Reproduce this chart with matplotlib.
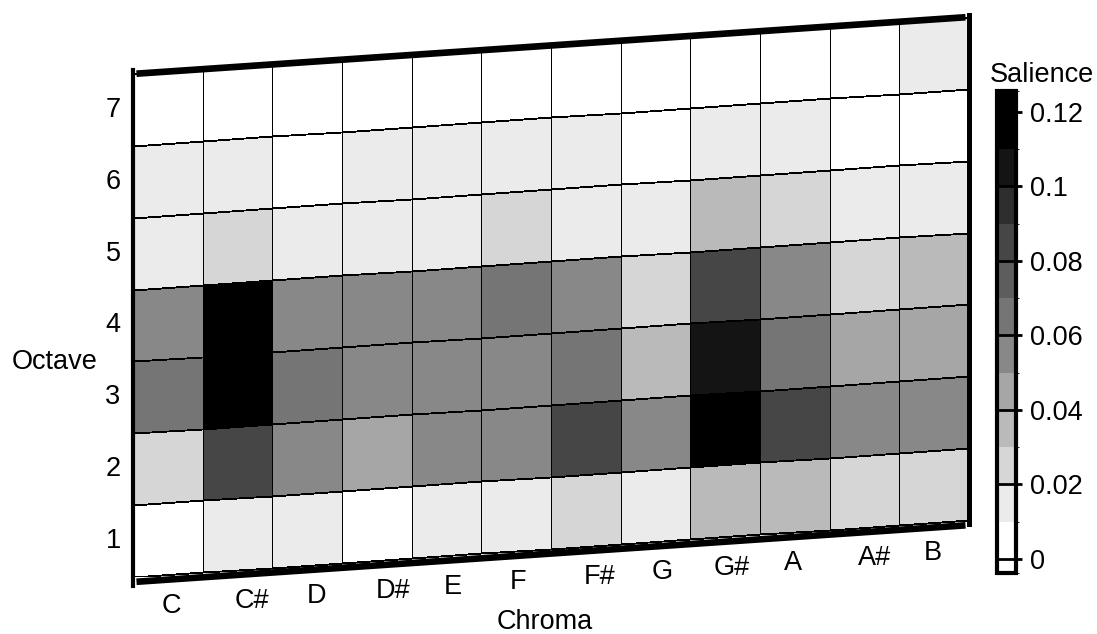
import numpy as np
import matplotlib
matplotlib.use("Agg")
import matplotlib.pyplot as plt
import matplotlib.transforms as mtransforms
from matplotlib.colors import ListedColormap, BoundaryNorm

plt.rcParams['font.family'] = ['Liberation Sans', 'DejaVu Sans']
plt.rcParams['font.size'] = 19.5

# %%
# salience per octave (rows) and chroma (columns)
chroma = ['C', 'C#', 'D', 'D#', 'E', 'F', 'F#', 'G', 'G#', 'A', 'A#', 'B']
octaves = [1, 2, 3, 4, 5, 6, 7]

oct_1 = [0.004, 0.014, 0.015, 0.006, 0.013, 0.016, 0.024, 0.017, 0.036, 0.034, 0.026, 0.025]
oct_2 = [0.026, 0.086, 0.057, 0.046, 0.055, 0.054, 0.085, 0.056, 0.118, 0.084, 0.055, 0.056]
oct_3 = [0.064, 0.122, 0.066, 0.057, 0.056, 0.058, 0.065, 0.035, 0.106, 0.066, 0.045, 0.046]
oct_4 = [0.056, 0.121, 0.055, 0.057, 0.056, 0.064, 0.057, 0.026, 0.086, 0.055, 0.025, 0.036]
oct_5 = [0.015, 0.024, 0.016, 0.014, 0.016, 0.025, 0.015, 0.016, 0.034, 0.026, 0.014, 0.016]
oct_6 = [0.014, 0.013, 0.006, 0.015, 0.014, 0.015, 0.016, 0.008, 0.014, 0.016, 0.007, 0.005]
oct_7 = [0.004, 0.005, 0.003, 0.005, 0.006, 0.004, 0.005, 0.006, 0.007, 0.008, 0.006, 0.012]

cbar_ticks = [0, 0.02, 0.04, 0.06, 0.08, 0.1, 0.12]
cbar_labels = ['0', '0.02', '0.04', '0.06', '0.08', '0.1', '0.12']

# %%
Z = np.array([oct_1, oct_2, oct_3, oct_4, oct_5, oct_6, oct_7])

shear = 0.066  # rows risen per chroma column (tilted view)
X, Y = np.meshgrid(np.arange(len(chroma) + 1), np.arange(len(octaves) + 1))
Y = Y + shear * X

# stepped gray map, 0.01 per band
levels = [-0.0038, 0, 0.01, 0.02, 0.03, 0.04, 0.05, 0.06, 0.07, 0.08, 0.09, 0.1, 0.11, 0.1256]
grays = ['#ffffff', '#ffffff', '#ebebeb', '#d6d6d6', '#bababa', '#a6a6a6', '#888888',
         '#757575', '#5d5d5d', '#464646', '#2e2e2e', '#141414', '#000000']
cmap = ListedColormap(grays)
norm = BoundaryNorm(levels, cmap.N)

fig = plt.figure(figsize=(10.97, 6.34), dpi=100)
ax = fig.add_axes([133/1097, 57/634, 836/1097, 560/634])
ax.set_xlim(0, 12)
ax.set_ylim(0, 7 + 12*shear)
ax.axis('off')

mesh = ax.pcolormesh(X, Y, Z, cmap=cmap, norm=norm, edgecolors='k', linewidth=0.6)

# box edges
top = 7 + 12*shear
down = mtransforms.offset_copy(ax.transData, fig=fig, y=-5, units='dots')
ax.plot([0.05, 11.95], [7 + 0.05*shear, top - 0.05*shear], color='k', lw=4.8,
        solid_capstyle='butt', clip_on=False)
ax.plot([0.05, 11.95], [0.05*shear, 11.95*shear], color='k', lw=4.8,
        solid_capstyle='butt', clip_on=False, transform=down)
ax.plot([0, 0], [-0.12, 7.05], color='k', lw=3, clip_on=False)
ax.plot([12, 12], [12*shear - 0.05, top + 0.03], color='k', lw=3.6, clip_on=False)

# octave tick labels along left edge
for o in octaves:
    ax.text(-0.287, o - 0.5, str(o), ha='center', va='center')

# chroma tick labels follow the tilted bottom edge
nudge = [4, 14, 9, 16, 6, 2, 14, 7, 7, -2, 10, -1]  # px, as in the original
for i, name in enumerate(chroma):
    xc = i + 0.5
    ax.text(xc + nudge[i]/69.7, shear*xc - 0.43, name, ha='center', va='center')

ax.text(-1.13, 2.99, 'Octave', ha='center', va='center')
ax.text(5.91, -0.72, 'Chroma', ha='center', va='baseline')

# %%
cax = fig.add_axes([997/1097, 61/634, 19/1097, 482/634])
cb = fig.colorbar(mesh, cax=cax, spacing='proportional', ticks=cbar_ticks)
cb.set_ticklabels(cbar_labels)
cb.outline.set_linewidth(3)
cax.tick_params(length=4, width=2, pad=6)
for t in cbar_ticks[:-1]:
    cax.axhline(t, color='k', lw=2)
cax.text(-0.37, 1.019, 'Salience', transform=cax.transAxes, ha='left', va='baseline')

fig.savefig('out.png', dpi=100)
